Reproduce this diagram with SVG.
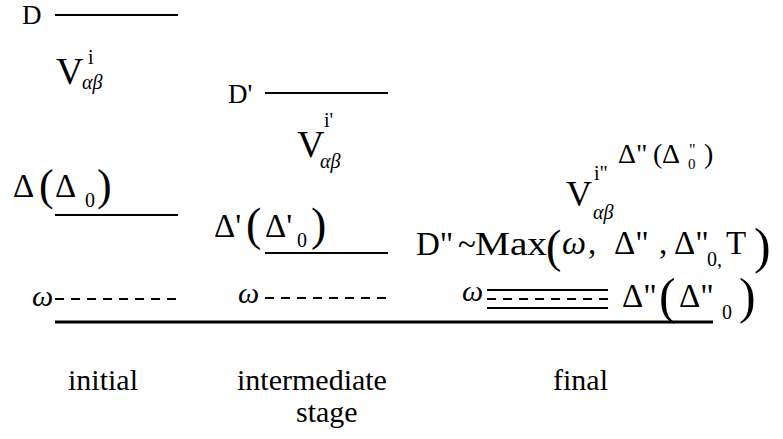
<svg xmlns="http://www.w3.org/2000/svg" width="783" height="439" viewBox="0 0 783 439">
<style>
text{font-family:'Liberation Serif','Times New Roman',serif;fill:#000}
.it{font-style:italic}
.lv{stroke:#000;stroke-width:2;fill:none}
.ds{stroke:#000;stroke-width:2;stroke-dasharray:9 7;fill:none}
.base{stroke:#000;stroke-width:3;fill:none}
</style>
<rect width="783" height="439" fill="#fff"/>
<g id="levels">
<line class="lv" x1="55" y1="15" x2="178" y2="15"/>
<line class="lv" x1="55" y1="215" x2="178" y2="215"/>
<line class="ds" x1="55" y1="299" x2="180" y2="299"/>
<line class="lv" x1="265" y1="93" x2="388" y2="93"/>
<line class="lv" x1="265" y1="253" x2="388" y2="253"/>
<line class="ds" x1="265" y1="298" x2="388" y2="298"/>
<line class="lv" x1="487" y1="290" x2="608" y2="290"/>
<line class="ds" x1="487" y1="299" x2="608" y2="299"/>
<line class="lv" x1="487" y1="308" x2="608" y2="308"/>
<line class="base" x1="55" y1="322" x2="713" y2="322"/>
</g>
<g id="initial">
<text x="22" y="24" font-size="27">D</text>
<text x="56" y="84" font-size="38">V</text>
<text x="88" y="64" font-size="20">i</text>
<text x="82" y="89" font-size="20" class="it">αβ</text>
<text x="13" y="197" font-size="33">Δ</text>
<text x="39" y="200" font-size="44">(</text>
<text x="55" y="197" font-size="33">Δ</text>
<text x="85" y="207" font-size="20">0</text>
<text x="97" y="200" font-size="44">)</text>
<text x="32" y="306" font-size="30" class="it">ω</text>
</g>
<g id="intermediate">
<text x="228" y="103" font-size="27">D'</text>
<text x="297" y="157" font-size="38">V</text>
<text x="324" y="127" font-size="20">i'</text>
<text x="320" y="168" font-size="20" class="it">αβ</text>
<text x="214" y="237" font-size="33">Δ'</text>
<text x="246" y="240" font-size="46">(</text>
<text x="265" y="237" font-size="33">Δ'</text>
<text x="297" y="247" font-size="20">0</text>
<text x="311" y="240" font-size="46">)</text>
<text x="238" y="303" font-size="30" class="it">ω</text>
</g>
<g id="final">
<text x="618" y="163" font-size="28">Δ"</text>
<text x="653" y="163" font-size="28">(</text>
<text x="662" y="163" font-size="28">Δ</text>
<text x="688" y="169" font-size="15">0</text>
<text x="689" y="155" font-size="16">"</text>
<text x="704" y="163" font-size="28">)</text>
<text x="566" y="206" font-size="36">V</text>
<text x="594" y="180" font-size="20">i"</text>
<text x="593" y="219" font-size="20" class="it">αβ</text>
<text x="416" y="255" font-size="33">D"</text>
<text x="458" y="255" font-size="33">~</text>
<text x="475" y="255" font-size="33" textLength="72" lengthAdjust="spacingAndGlyphs">Max</text>
<text x="546" y="262" font-size="46">(</text>
<text x="562" y="254" font-size="34" class="it">ω</text>
<text x="588" y="254" font-size="33">,</text>
<text x="614" y="254" font-size="33">Δ"</text>
<text x="659" y="254" font-size="33">,</text>
<text x="674" y="254" font-size="33">Δ"</text>
<text x="707" y="266" font-size="20">0,</text>
<text x="726" y="254" font-size="33">T</text>
<text x="754" y="263" font-size="50">)</text>
<text x="462" y="301" font-size="30" class="it">ω</text>
<text x="622" y="307" font-size="33">Δ"</text>
<text x="659" y="313" font-size="50">(</text>
<text x="679" y="307" font-size="33">Δ"</text>
<text x="722" y="319" font-size="20">0</text>
<text x="739" y="313" font-size="50">)</text>
</g>
<g id="labels">
<text x="68" y="390" font-size="30">initial</text>
<text x="237" y="390" font-size="30">intermediate</text>
<text x="296" y="422" font-size="30">stage</text>
<text x="553" y="390" font-size="30">final</text>
</g>
</svg>
